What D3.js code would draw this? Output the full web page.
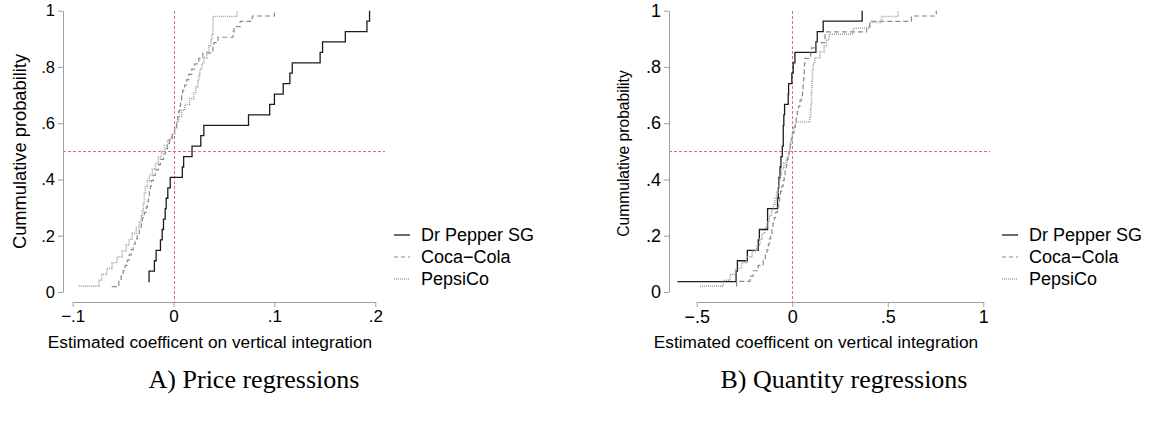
<!DOCTYPE html>
<html>
<head>
<meta charset="utf-8">
<script src="https://cdn.jsdelivr.net/npm/d3@7"></script>
<style>
  html, body { margin: 0; padding: 0; background: #fff; }
  svg { display: block; }
  text { font-family: "Liberation Sans", Arial, Helvetica, sans-serif; fill: #000; }
  .caption { font-family: "Liberation Serif", "Times New Roman", serif; }
</style>
</head>
<body>
<svg id="chart" width="1149" height="421"></svg>
<script>
// Estimated coefficients on vertical integration, sorted, one per regression
const firms = ["Dr Pepper SG", "Coca\u2212Cola", "PepsiCo"];

// A) Price regressions
const priceDrPepper = [-0.025, -0.0243, -0.019, -0.0173, -0.013, -0.0113, -0.010, -0.0083, -0.0073,
  -0.0057, -0.0033, 0.0087, 0.010, 0.0183, 0.027, 0.030, 0.0743, 0.0953, 0.100, 0.1087, 0.1153,
  0.1177, 0.1453, 0.1477, 0.1703, 0.1917, 0.1943];
const priceCocaCola = [-0.0613, -0.0543, -0.052, -0.050, -0.048, -0.046, -0.044, -0.042, -0.040,
  -0.038, -0.036, -0.034, -0.032, -0.031, -0.029, -0.027, -0.026, -0.025, -0.024, -0.023, -0.022,
  -0.020, -0.018, -0.015, -0.013, -0.010, -0.008, -0.006, -0.004, -0.001, 0.001, 0.003, 0.004,
  0.005, 0.006, 0.007, 0.008, 0.009, 0.011, 0.013, 0.015, 0.018, 0.021, 0.025, 0.029, 0.039,
  0.040, 0.044, 0.059, 0.060, 0.066, 0.078, 0.100];
const pricePepsiCo = [-0.094, -0.074, -0.071, -0.066, -0.061, -0.056, -0.051, -0.047, -0.044,
  -0.041, -0.037, -0.034, -0.032, -0.031, -0.030, -0.029, -0.029, -0.028, -0.026, -0.024, -0.021,
  -0.018, -0.015, -0.012, -0.009, -0.006, -0.002, 0.001, 0.003, 0.005, 0.008, 0.011, 0.016,
  0.020, 0.022, 0.024, 0.025, 0.026, 0.028, 0.030, 0.033, 0.035, 0.037, 0.038, 0.039, 0.039,
  0.039, 0.063];

// B) Quantity regressions
const qtyDrPepper = [-0.601, -0.294, -0.287, -0.235, -0.178, -0.172, -0.129, -0.129, -0.077,
  -0.073, -0.070, -0.064, -0.059, -0.052, -0.047, -0.047, -0.044, -0.040, -0.021, -0.019, -0.002,
  0.005, 0.014, 0.124, 0.131, 0.162, 0.366];
const qtyCocaCola = [-0.291, -0.291, -0.221, -0.204, -0.178, -0.152, -0.141, -0.132, -0.125,
  -0.120, -0.113, -0.106, -0.101, -0.094, -0.087, -0.078, -0.071, -0.066, -0.061, -0.054, -0.047,
  -0.042, -0.037, -0.031, -0.026, -0.021, -0.016, -0.010, -0.005, 0.002, 0.009, 0.016, 0.021,
  0.026, 0.033, 0.040, 0.047, 0.054, 0.057, 0.059, 0.061, 0.063, 0.064, 0.066, 0.096, 0.101,
  0.127, 0.171, 0.172, 0.389, 0.406, 0.624, 0.754];
const qtyPepsiCo = [-0.483, -0.361, -0.326, -0.296, -0.265, -0.239, -0.209, -0.186, -0.169,
  -0.157, -0.143, -0.131, -0.120, -0.108, -0.099, -0.091, -0.082, -0.073, -0.068, -0.063, -0.056,
  -0.044, -0.030, -0.019, -0.012, -0.007, 0.000, 0.007, 0.016, 0.092, 0.096, 0.099, 0.101, 0.101,
  0.103, 0.103, 0.105, 0.106, 0.110, 0.118, 0.145, 0.167, 0.179, 0.193, 0.319, 0.406, 0.467,
  0.554];

// Axis ticks and labels
const yTicks = [0, 0.2, 0.4, 0.6, 0.8, 1];
const yTickLabels = ["0", ".2", ".4", ".6", ".8", "1"];
const priceXTicks = [-0.1, 0, 0.1, 0.2];
const priceXTickLabels = ["\u2212.1", "0", ".1", ".2"];
const qtyXTicks = [-0.5, 0, 0.5, 1];
const qtyXTickLabels = ["\u2212.5", "0", ".5", "1"];

const yTitle = "Cummulative probability";
const xTitle = "Estimated coefficent on vertical integration";
const captions = ["A) Price regressions", "B) Quantity regressions"];

// Line styles per firm
const styles = [
  { stroke: "#1c1c1c", width: 1.3, dash: null },
  { stroke: "#8a8a8a", width: 1.2, dash: "5,3" },
  { stroke: "#a8a8a8", width: 1.6, dash: "1,1" }
];
const refColor = "#d6689c";

const svg = d3.select("#chart");

function drawPanel(cfg) {
  const g = svg.append("g");
  const x = d3.scaleLinear().domain(cfg.xDomain).range(cfg.xRange);
  const y = d3.scaleLinear().domain([0, 1]).range([292, 10.7]);

  // reference lines at 0 and 0.5, snapped to the pixel grid
  const y50 = Math.round(y(0.5)) + 0.5;
  const x0 = Math.round(x(0)) + 0.5;
  g.append("line")
    .attr("x1", cfg.plotLeft).attr("x2", cfg.plotRight)
    .attr("y1", y50).attr("y2", y50)
    .attr("stroke", refColor).attr("stroke-width", 1).attr("stroke-dasharray", "3,2")
    .attr("shape-rendering", "crispEdges");
  g.append("line")
    .attr("x1", x0).attr("x2", x0)
    .attr("y1", y(1)).attr("y2", cfg.xAxisY)
    .attr("stroke", refColor).attr("stroke-width", 1).attr("stroke-dasharray", "3,2")
    .attr("shape-rendering", "crispEdges");

  // empirical CDFs drawn as step functions
  const line = d3.line()
    .x(d => x(d.v))
    .y(d => y(d.p))
    .curve(d3.curveStepAfter);
  cfg.series.forEach((vals, i) => {
    const n = vals.length;
    const pts = vals.map((v, k) => ({ v: v, p: (k + 1) / n }));
    const st = styles[i];
    g.append("path")
      .datum(pts)
      .attr("d", line)
      .attr("fill", "none")
      .attr("stroke", st.stroke)
      .attr("stroke-width", st.width)
      .attr("stroke-dasharray", st.dash);
  });

  // y axis
  const yAxis = d3.axisLeft(y)
    .tickValues(yTicks)
    .tickFormat((d, i) => yTickLabels[i])
    .tickSize(5).tickSizeOuter(0).tickPadding(3);
  const ya = g.append("g").attr("transform", `translate(${cfg.yAxisX},0)`).call(yAxis);
  ya.select(".domain").attr("stroke", "#a0a0a0");
  ya.selectAll(".tick line").attr("stroke", "#a0a0a0");
  ya.selectAll(".tick text")
    .style("font-family", '"Liberation Sans", Arial, sans-serif')
    .style("font-size", cfg.yTickSize + "px").attr("fill", "#000");

  // x axis
  const xAxis = d3.axisBottom(x)
    .tickValues(cfg.xTicks)
    .tickFormat((d, i) => cfg.xTickLabels[i])
    .tickSize(5).tickSizeOuter(0).tickPadding(3);
  const xa = g.append("g").attr("transform", `translate(0,${cfg.xAxisY})`).call(xAxis);
  xa.select(".domain").attr("stroke", "#a0a0a0");
  xa.selectAll(".tick line").attr("stroke", "#a0a0a0");
  xa.selectAll(".tick text")
    .style("font-family", '"Liberation Sans", Arial, sans-serif')
    .style("font-size", cfg.xTickSize + "px").attr("fill", "#000");

  // axis titles
  g.append("text")
    .attr("transform", `translate(${cfg.yTitleX},${cfg.yTitleY}) rotate(-90)`)
    .attr("text-anchor", "middle")
    .attr("dominant-baseline", "central")
    .style("font-size", cfg.yTitleSize + "px")
    .text(yTitle);
  g.append("text")
    .attr("x", cfg.xTitleX).attr("y", 348)
    .attr("text-anchor", "middle")
    .style("font-size", "17.3px")
    .text(xTitle);

  // legend
  const lg = g.append("g").attr("transform", `translate(${cfg.legendX},0)`);
  const rows = [235, 257, 279];
  firms.forEach((name, i) => {
    const st = styles[i];
    lg.append("line")
      .attr("x1", 0).attr("x2", 16)
      .attr("y1", rows[i]).attr("y2", rows[i])
      .attr("stroke", st.stroke)
      .attr("stroke-width", st.width)
      .attr("stroke-dasharray", i === 1 ? "4,3" : st.dash);
    lg.append("text")
      .attr("x", 27).attr("y", rows[i])
      .attr("dominant-baseline", "central")
      .style("font-size", "18px")
      .text(name);
  });

  // caption
  svg.append("text")
    .attr("class", "caption")
    .attr("x", cfg.captionX).attr("y", 388)
    .attr("text-anchor", "middle")
    .style("font-size", "26px")
    .text(cfg.caption);
}

drawPanel({
  series: [priceDrPepper, priceCocaCola, pricePepsiCo],
  xDomain: [-0.1, 0.2], xRange: [72.7, 375.3],
  xTicks: priceXTicks, xTickLabels: priceXTickLabels,
  plotLeft: 63, plotRight: 385, yAxisX: 63, xAxisY: 302,
  yTickSize: 16.5, xTickSize: 17, yTitleSize: 18.3,
  yTitleX: 19, yTitleY: 151.5, xTitleX: 210,
  legendX: 394, captionX: 254, caption: captions[0]
});

drawPanel({
  series: [qtyDrPepper, qtyCocaCola, qtyPepsiCo],
  xDomain: [-0.5, 1], xRange: [696.7, 983.3],
  xTicks: qtyXTicks, xTickLabels: qtyXTickLabels,
  plotLeft: 669, plotRight: 990, yAxisX: 669, xAxisY: 302,
  yTickSize: 18, xTickSize: 18, yTitleSize: 15.6,
  yTitleX: 623, yTitleY: 153.5, xTitleX: 816,
  legendX: 1002, captionX: 844, caption: captions[1]
});
</script>
</body>
</html>
